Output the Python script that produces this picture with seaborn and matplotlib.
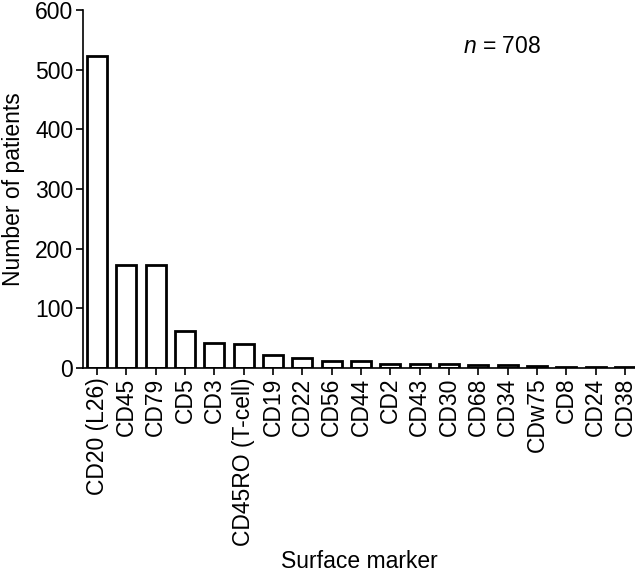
import pandas as pd
import seaborn as sns
import matplotlib.pyplot as plt

# data
markers = ["CD20 (L26)", "CD45", "CD79", "CD5", "CD3", "CD45RO (T-cell)", "CD19",
           "CD22", "CD56", "CD44", "CD2", "CD43", "CD30", "CD68", "CD34", "CDw75",
           "CD8", "CD24", "CD38"]
patients = [523, 173, 172, 62, 42, 40, 22, 17, 11, 11, 7, 6, 6, 5, 5, 3, 2, 2, 2]

df = pd.DataFrame({"marker": markers, "patients": patients})

sns.set_style("ticks")
plt.rcParams["font.family"] = ["Liberation Sans", "DejaVu Sans"]
plt.rcParams["mathtext.fontset"] = "custom"
plt.rcParams["mathtext.it"] = "Liberation Sans:italic"
plt.rcParams["mathtext.rm"] = "Liberation Sans"
for k in ["text.color", "axes.labelcolor", "xtick.color", "ytick.color", "axes.edgecolor"]:
    plt.rcParams[k] = "black"

fig = plt.figure(figsize=(6.35, 5.73), dpi=100)
ax = fig.add_axes([0.1307, 0.3578, 0.8693, 0.6247])

sns.barplot(data=df, x="marker", y="patients", color="white", edgecolor="black",
            linewidth=2, width=0.68, ax=ax)

ax.set_xlim(-0.48, 18.34)
ax.set_ylim(0, 600)
ax.set_yticks([0, 100, 200, 300, 400, 500, 600])
ax.tick_params(axis="both", labelsize=16.5, width=1.2, length=5, pad=2)
ax.tick_params(axis="x", rotation=90)
for s in ["left", "bottom"]:
    ax.spines[s].set_linewidth(1.2)
sns.despine(ax=ax)

ax.set_xlabel("Surface marker", fontsize=16.5, labelpad=3)
ax.set_ylabel("Number of patients", fontsize=16.5, labelpad=7)
ax.text(0.688, 0.88, r"$n$ = 708", transform=ax.transAxes, fontsize=16.5, va="baseline")

fig.savefig("out.png", dpi=100)
